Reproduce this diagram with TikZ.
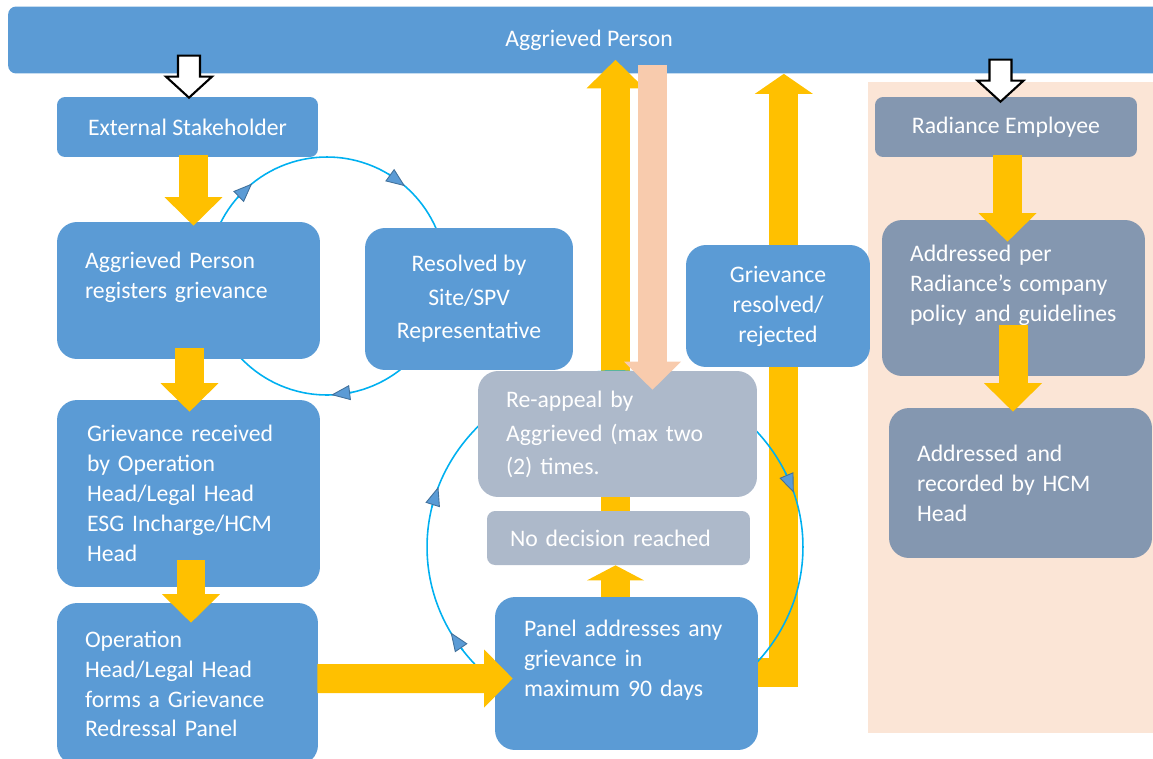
\documentclass[tikz,border=0pt]{standalone}
\usepackage{fontspec}
\setmainfont{Carlito}
\usetikzlibrary{arrows.meta, calc}
\definecolor{boxblue}{HTML}{5B9BD5}
\definecolor{boxgrey}{HTML}{ADB9CA}
\definecolor{boxslate}{HTML}{8497B0}
\definecolor{flowyellow}{HTML}{FFC000}
\definecolor{peachback}{HTML}{FBE5D6}
\definecolor{peacharrow}{HTML}{F8CBAD}
\definecolor{ringblue}{HTML}{00B0F0}
\definecolor{markline}{HTML}{41719C}
\pgfdeclarelayer{bottom}
\pgfdeclarelayer{behind}
\pgfsetlayers{bottom,behind,main}
\tikzset{
  box/.style={
    fill=boxblue,
    rounded corners=0.4cm,
    inner sep=0pt,
    text=white,
    font=\fontsize{13.5}{17}\selectfont,
  },
  smallbox/.style={
    box,
    rounded corners=0.16cm
  },
  leftbox/.style={
    box,
    align=left
  },
  greybox/.style={
    leftbox,
    fill=boxgrey
  },
  slatebox/.style={
    leftbox,
    fill=boxslate
  },
  flow/.style={
    draw=flowyellow,
    line width=0.58cm,
    -{Triangle[width=1.16cm,length=0.57cm,line width=0pt]}
  },
  shortflow/.style={
    flow,
    -{Triangle[width=1.14cm,length=0.3cm,line width=0pt]}
  },
  elbowflow/.style={
    flow,
    line join=miter,
    -{Triangle[width=1.16cm,length=0.4cm,line width=0pt]}
  },
  backflow/.style={
    flow,
    draw=peacharrow,
    -{Triangle[width=1.14cm,length=0.56cm,line width=0pt]}
  },
  ring/.style={
    draw=ringblue,
    line width=0.9pt
  },
  ringtip/.style={
    ring,
    -{Triangle[length=0.38cm,width=0.3cm,line width=0.5pt,color=markline,fill=boxblue]}
  },
  hollow/.style={
    draw=black,
    fill=white,
    line width=1.2pt,
    line join=miter
  }
}
% open block arrow, given by its tip
\newcommand{\openarrow}[1]{%
  \draw[hollow] (#1) ++(-11,-42) -- ++(22,0) -- ++(0,21) -- ++(12,0)
    -- ++(-23,21) -- ++(-23,-21) -- ++(12,0) -- cycle;}

\begin{document}
\begin{tikzpicture}[x=0.02cm, y=-0.02cm]
  \useasboundingbox (0,0) rectangle (1153,758);

  \begin{pgfonlayer}{bottom}
    \fill[peachback] (868,82) rectangle (1153,733);
    \node[smallbox, minimum width=23.24cm, minimum height=1.34cm] (bar) at (589,40) {Aggrieved Person};
  \end{pgfonlayer}

  % left column
  \node[smallbox, minimum width=5.22cm, minimum height=1.2cm] (ext) at (187.5,127) {External Stakeholder};
  \node[leftbox, text width=4.14cm, minimum width=5.26cm, minimum height=2.74cm] (reg) at (188.5,290.5) {Aggrieved Person\\registers grievance\\\mbox{}};
  \node[leftbox, text width=4.06cm, minimum width=5.26cm, minimum height=3.74cm] (rec) at (188.5,493.5) {Grievance received\\by Operation\\Head/Legal Head\\ESG Incharge/HCM\\Head};
  \node[leftbox, text width=4.1cm, minimum width=5.22cm, minimum height=3.24cm] (ops) at (187.5,684) {Operation\\Head/Legal Head\\forms a Grievance\\Redressal Panel};

  % middle
  \node[box, align=center, minimum width=4.16cm, minimum height=2.84cm, font=\fontsize{13.5}{19}\selectfont] (site) at (469,299) {Resolved by\\Site/SPV\\Representative};
  \node[box, align=center, minimum width=3.68cm, minimum height=2.44cm] (res) at (778,306) {Grievance\\resolved/\\rejected};
  \node[greybox, text width=4.46cm, minimum width=5.58cm, minimum height=2.52cm, font=\fontsize{13.5}{19}\selectfont] (reap) at (617.5,434) {\mbox{}\\[-9pt]Re-appeal by\\Aggrieved (max two\\(2) times.};
  \node[greybox, rounded corners=0.16cm, text width=4.34cm, minimum width=5.26cm, minimum height=1.08cm] (nodec) at (618.5,538) {No decision reached};
  \node[leftbox, text width=4.1cm, minimum width=5.26cm, minimum height=3.06cm] (panel) at (626.5,673.5) {Panel addresses any\\grievance in\\maximum 90 days\\\mbox{}};

  % employee side
  \node[smallbox, fill=boxslate, minimum width=5.24cm, minimum height=1.2cm] (rad) at (1006,127) {Radiance Employee};
  \node[slatebox, text width=4.14cm, minimum width=5.26cm, minimum height=3.12cm] (addr) at (1013.5,298) {Addressed per\\Radiance's company\\policy and guidelines\\\mbox{}};
  \node[slatebox, text width=4.14cm, minimum width=5.26cm, minimum height=3cm] (hcm) at (1020.5,483) {Addressed and\\recorded by HCM\\Head};

  \begin{pgfonlayer}{behind}
    \draw[flow] ($(nodec.north)+(-3,0)$) -- ($(nodec.north |- bar.south)+(-3,-14)$);
    \coordinate (lcorner) at ($(panel.east)+(25.5,-1.5)$);
    \draw[elbowflow] ($(panel.east)+(0,-1.5)$) -- (lcorner) -- (lcorner |- bar.south);

    % the two cycles
    \coordinate (c1) at (327,276);
    \coordinate (c2) at (615,547);
    \draw[ring] (c1) circle (2.38cm);
    \draw[ring] (c2) ellipse (3.76cm and 3.52cm);
    \foreach \a in {129,49,-88}
      \draw[ringtip] ($(c1)+(\a+10:2.38cm)$) -- ($(c1)+(\a:2.38cm)$);
    \foreach \a in {160,209,18}
      \draw[ringtip] ($(c2)+(\a+7:3.76cm and 3.52cm)$) -- ($(c2)+(\a:3.76cm and 3.52cm)$);
  \end{pgfonlayer}

  \draw[flow] ($(ext.south)+(6,-2)$) -- ($(reg.north)+(5,4)$);
  \draw[flow] ($(reg.south)+(1,-11)$) -- ($(rec.north)+(1,12)$);
  \draw[flow] ($(rec.south)+(2.5,-27)$) -- ($(ops.north)+(3.5,20)$);
  \draw[flow] ($(ops.east)+(-1,-5.5)$) -- ($(panel.west)+(18,5)$);
  \draw[shortflow] ($(panel.north)+(-11,0)$) -- ($(nodec.south)+(-3,0)$);
  \draw[flow] ($(rad.south)+(1.5,-2)$) -- ($(addr.north)+(-6,22)$);
  \draw[flow] ($(addr.south)+(-0.5,-51)$) -- ($(hcm.north)+(-7.5,4)$);

  \draw[backflow] ($(reap.north |- bar.south)+(35,-9)$) -- ($(reap.north)+(35,19)$);
  \openarrow{$(ext.north)+(1.5,1)$}
  \openarrow{$(rad.north)+(-5.5,5)$}
\end{tikzpicture}
\end{document}
